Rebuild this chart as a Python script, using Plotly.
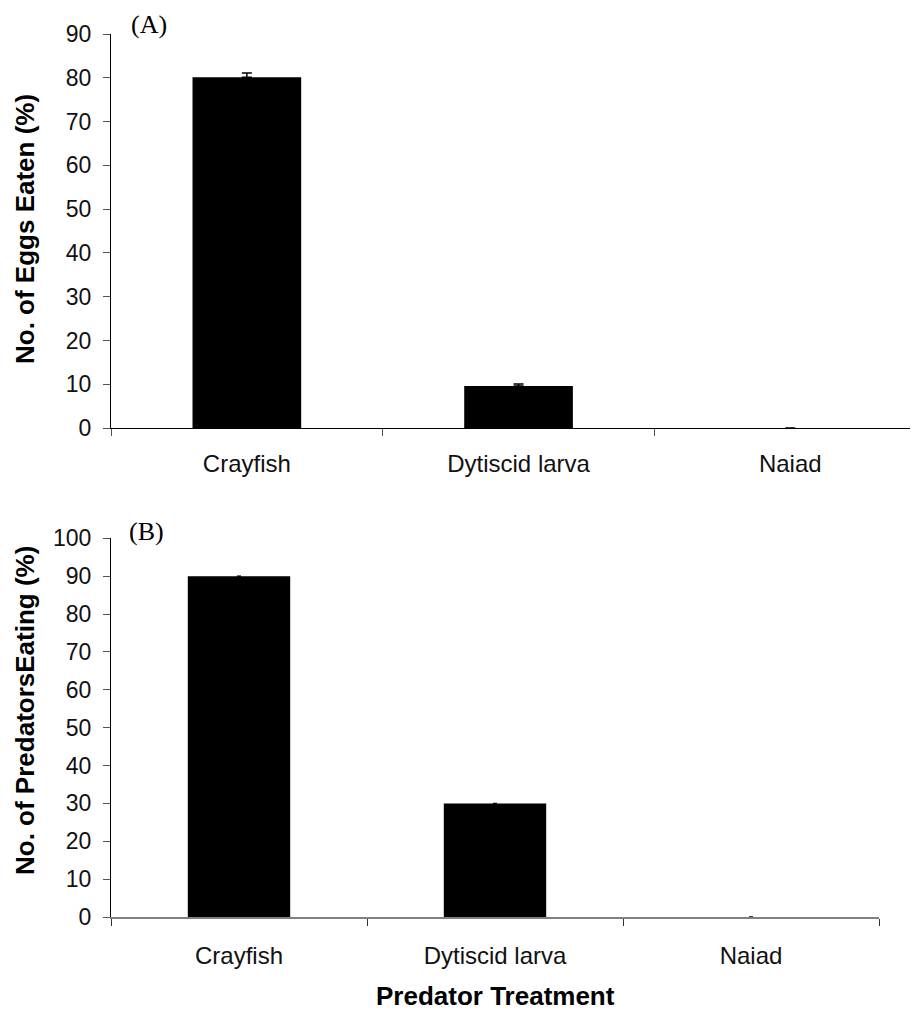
import plotly.graph_objects as go

categories = ["Crayfish", "Dytiscid larva", "Naiad"]
eggs_eaten = [80.1, 9.6, 0.0]
eggs_err = [1.0, 0.45, 0.0]
predators_eating = [90.0, 30.0, 0.0]
predators_err = [0.0, 0.0, 0.0]

# page body has an 8px default margin; work in window pixels and shift
OFF = 8
W, H = 918 - OFF, 1011 - OFF
ML, MR, MT, MB = 111 - OFF, 0, 34 - OFF, 1011 - 917
PW, PH = W - ML - MR, H - MT - MB

def px_x(px):
    return (px - OFF - ML) / PW

def px_y(py):
    return 1 - (py - OFF - MT) / PH

fig = go.Figure()
fig.add_trace(go.Bar(
    x=categories, y=eggs_eaten, width=0.4,
    marker=dict(color="black", line=dict(width=0)),
    error_y=dict(type="data", array=eggs_err, arrayminus=[0, 0, 0], symmetric=False,
                 color="black", thickness=1.5, width=5),
    xaxis="x", yaxis="y", showlegend=False,
))
fig.add_trace(go.Bar(
    x=categories, y=predators_eating, width=0.4,
    marker=dict(color="black", line=dict(width=0)),
    error_y=dict(type="data", array=predators_err, arrayminus=[0, 0, 0], symmetric=False,
                 color="black", thickness=1, width=2),
    xaxis="x2", yaxis="y2", showlegend=False,
))

tickfont_x = dict(family="Liberation Sans, Arial, sans-serif", size=24, color="#111")
tickfont_y = dict(family="Liberation Sans, Arial, sans-serif", size=23, color="#111")

top_cat_w = 271.7
fig.update_layout(
    width=W, height=H,
    margin=dict(l=ML, r=MR, t=MT, b=MB, autoexpand=False),
    paper_bgcolor="white", plot_bgcolor="white",
    xaxis=dict(
        domain=[0, 1], anchor="y", type="category",
        range=[-0.5, -0.5 + PW / top_cat_w],
        showline=True, linecolor="black", linewidth=1.2,
        ticks="outside", tickson="boundaries", ticklen=7, tickcolor="#555", tickwidth=1,
        showgrid=False, zeroline=False, tickfont=tickfont_x, ticklabelstandoff=14,
    ),
    yaxis=dict(
        domain=[px_y(428), 1], anchor="x",
        range=[0, 90], dtick=10, tick0=0,
        showline=True, linecolor="black", linewidth=1.2,
        ticks="outside", ticklen=7, tickcolor="#555", tickwidth=1,
        showgrid=False, zeroline=False, tickfont=tickfont_y, ticklabelstandoff=7,
    ),
    xaxis2=dict(
        domain=[0, px_x(879)], anchor="y2", type="category",
        range=[-0.5, 2.5],
        showline=True, linecolor="#808080", linewidth=2,
        ticks="outside", tickson="boundaries", ticklen=7, tickcolor="#333", tickwidth=1,
        showgrid=False, zeroline=False, tickfont=tickfont_x, ticklabelstandoff=16,
    ),
    yaxis2=dict(
        domain=[0, px_y(538.3)], anchor="x2",
        range=[0, 100], dtick=10, tick0=0,
        showline=True, linecolor="black", linewidth=1.2,
        ticks="outside", ticklen=7, tickcolor="#555", tickwidth=1,
        showgrid=False, zeroline=False, tickfont=tickfont_y, ticklabelstandoff=7,
    ),
)

title_font = dict(family="Liberation Sans, Arial, sans-serif", size=26, color="black")
panel_font = dict(family="Liberation Serif, Times New Roman, serif", size=26, color="black")

annotations = [
    dict(text="<b>No. of Eggs Eaten (%)</b>", x=px_x(25), y=px_y(229), textangle=-90,
         font=title_font),
    dict(text="<b>No. of PredatorsEating (%)</b>", x=px_x(25), y=px_y(711), textangle=-90,
         font=title_font),
    dict(text="<b>Predator Treatment</b>", x=px_x(495), y=px_y(996),
         font=dict(family="Liberation Sans, Arial, sans-serif", size=26, color="black")),
    dict(text="(A)", x=px_x(129), y=px_y(24), xanchor="left", font=panel_font),
    dict(text="(B)", x=px_x(127), y=px_y(531), xanchor="left", font=panel_font),
]
for a in annotations:
    a.update(xref="paper", yref="paper", showarrow=False)
    a.setdefault("xanchor", "center")
    a.setdefault("yanchor", "middle")
fig.update_layout(annotations=annotations)

fig.write_html("out.html")
